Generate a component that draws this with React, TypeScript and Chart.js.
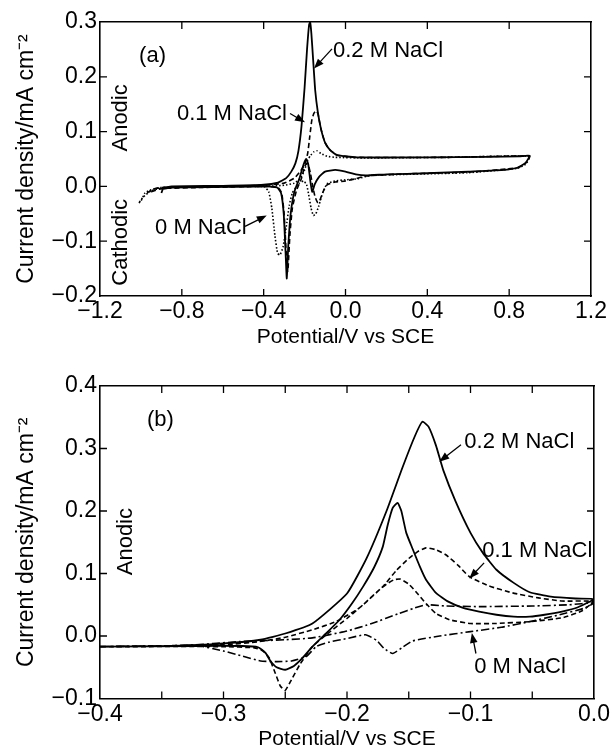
import React, { useEffect, useRef } from 'react';
import { Chart, registerables } from 'chart.js';
Chart.register(...registerables);

// ---------- Panel (a): full cyclic voltammograms ----------
const a02X = [-0.9, -0.89, -0.85, -0.6, -0.4, -0.33, -0.29, -0.265, -0.245, -0.23, -0.215, -0.2, -0.188, -0.178, -0.173, -0.167, -0.158, -0.148, -0.135, -0.12, -0.1, -0.075, -0.04, 0.05, 0.4, 0.7, 0.85, 0.9,
  0.88, 0.84, 0.78, 0.6, 0.4, 0.2, 0.1, 0.05, 0.0, -0.05, -0.1, -0.13, -0.15, -0.163, -0.172, -0.182, -0.192, -0.205, -0.225, -0.25, -0.268, -0.28, -0.287, -0.293, -0.302, -0.315, -0.335, -0.4, -0.6, -0.85, -0.9];
const a02Y = [-0.012, -0.003, 0.0, 0.001, 0.003, 0.007, 0.015, 0.027, 0.042, 0.065, 0.11, 0.18, 0.25, 0.295, 0.3, 0.28, 0.23, 0.175, 0.135, 0.105, 0.08, 0.066, 0.057, 0.053, 0.053, 0.054, 0.055, 0.056,
  0.043, 0.034, 0.03, 0.027, 0.024, 0.022, 0.02, 0.022, 0.027, 0.03, 0.027, 0.017, 0.004, -0.01, 0.01, 0.04, 0.05, 0.04, 0.015, -0.01, -0.05, -0.11, -0.168, -0.12, -0.05, -0.012, -0.002, 0.0, -0.001, -0.002, -0.005];

const a01X = [-0.97, -0.94, -0.9, -0.6, -0.4, -0.3, -0.25, -0.22, -0.2, -0.185, -0.175, -0.165, -0.155, -0.145, -0.135, -0.12, -0.1, -0.075, -0.04, 0.05, 0.5, 0.9,
  0.88, 0.84, 0.6, 0.3, 0.1, 0.05, 0.0, -0.05, -0.09, -0.11, -0.125, -0.135, -0.148, -0.16, -0.172, -0.185, -0.198, -0.215, -0.24, -0.26, -0.272, -0.282, -0.29, -0.3, -0.312, -0.33, -0.4, -0.7, -0.9, -0.95, -0.97];
const a01Y = [-0.012, -0.005, -0.002, 0.0, 0.002, 0.006, 0.015, 0.028, 0.04, 0.06, 0.09, 0.12, 0.133, 0.138, 0.133, 0.105, 0.08, 0.066, 0.057, 0.053, 0.053, 0.055,
  0.042, 0.034, 0.026, 0.023, 0.019, 0.014, 0.01, 0.008, 0.003, -0.01, -0.025, -0.03, -0.02, 0.0, 0.025, 0.042, 0.038, 0.015, -0.008, -0.04, -0.09, -0.155, -0.12, -0.05, -0.012, -0.002, 0.0, -0.002, -0.004, -0.01, -0.012];

const a00X = [-1.01, -1.0, -0.98, -0.95, -0.9, -0.6, -0.4, -0.3, -0.25, -0.22, -0.2, -0.185, -0.17, -0.155, -0.14, -0.12, -0.09, -0.05, 0.1, 0.5, 0.9,
  0.88, 0.84, 0.6, 0.3, 0.12, 0.06, 0.0, -0.05, -0.09, -0.11, -0.13, -0.145, -0.157, -0.168, -0.18, -0.19, -0.205, -0.225, -0.245, -0.26, -0.275, -0.29, -0.305, -0.32, -0.332, -0.345, -0.36, -0.375, -0.395, -0.5, -0.8, -0.9, -0.95, -0.99, -1.01];
const a00Y = [-0.03, -0.027, -0.012, -0.006, -0.002, 0.0, 0.0, 0.002, 0.006, 0.015, 0.03, 0.048, 0.057, 0.063, 0.065, 0.06, 0.055, 0.053, 0.052, 0.053, 0.055,
  0.04, 0.033, 0.025, 0.022, 0.02, 0.014, 0.012, 0.01, 0.005, -0.01, -0.035, -0.05, -0.053, -0.04, -0.015, 0.003, 0.01, 0.006, -0.003, -0.012, -0.035, -0.075, -0.11, -0.125, -0.122, -0.09, -0.04, -0.01, -0.001, 0.0, -0.001, -0.003, -0.008, -0.02, -0.03];

// ---------- Panel (b): anodic region enlarged ----------
const b02X = [-0.4, -0.34, -0.3, -0.27, -0.25, -0.228, -0.2, -0.184, -0.168, -0.155, -0.145, -0.139, -0.134, -0.128, -0.122, -0.112, -0.1, -0.09, -0.079, -0.065, -0.052, -0.035, -0.015, 0.0,
  -0.013, -0.026, -0.04, -0.052, -0.065, -0.079, -0.093, -0.106, -0.118, -0.128, -0.136, -0.141, -0.147, -0.152, -0.156, -0.159, -0.163, -0.167, -0.171, -0.178, -0.187, -0.196, -0.206, -0.217, -0.228, -0.236, -0.243, -0.25, -0.257, -0.262, -0.266, -0.272, -0.285, -0.32, -0.4];
const b02Y = [-0.017, -0.016, -0.012, -0.006, 0.004, 0.02, 0.068, 0.125, 0.2, 0.27, 0.32, 0.343, 0.335, 0.305, 0.265, 0.215, 0.165, 0.133, 0.106, 0.085, 0.07, 0.063, 0.06, 0.059,
  0.046, 0.039, 0.034, 0.031, 0.031, 0.034, 0.039, 0.045, 0.055, 0.069, 0.09, 0.111, 0.14, 0.165, 0.2, 0.213, 0.205, 0.178, 0.143, 0.11, 0.079, 0.052, 0.026, 0.004, -0.017, -0.035, -0.048, -0.054, -0.05, -0.04, -0.027, -0.018, -0.016, -0.016, -0.017];

const b01X = [-0.4, -0.3, -0.271, -0.25, -0.228, -0.209, -0.19, -0.171, -0.16, -0.15, -0.142, -0.136, -0.128, -0.12, -0.11, -0.101, -0.085, -0.066, -0.045, -0.026, 0.0,
  -0.01, -0.026, -0.052, -0.08, -0.1, -0.117, -0.128, -0.136, -0.143, -0.15, -0.157, -0.162, -0.168, -0.175, -0.187, -0.2, -0.213, -0.228, -0.238, -0.245, -0.25, -0.254, -0.258, -0.263, -0.268, -0.275, -0.3, -0.4];
const b01Y = [-0.017, -0.014, -0.009, -0.002, 0.01, 0.023, 0.045, 0.079, 0.105, 0.124, 0.136, 0.141, 0.138, 0.13, 0.113, 0.095, 0.08, 0.069, 0.061, 0.056, 0.055,
  0.04, 0.029, 0.023, 0.02, 0.02, 0.026, 0.036, 0.052, 0.068, 0.083, 0.091, 0.09, 0.083, 0.072, 0.05, 0.028, 0.008, -0.017, -0.045, -0.07, -0.087, -0.08, -0.06, -0.035, -0.024, -0.019, -0.017, -0.017];

const b00X = [-0.4, -0.33, -0.287, -0.25, -0.228, -0.2, -0.18, -0.158, -0.145, -0.136, -0.12, -0.093, -0.05, -0.02, 0.0,
  -0.007, -0.03, -0.052, -0.075, -0.1, -0.125, -0.147, -0.155, -0.163, -0.17, -0.176, -0.185, -0.2, -0.215, -0.225, -0.233, -0.245, -0.257, -0.27, -0.285, -0.3, -0.322, -0.35, -0.4];
const b00Y = [-0.017, -0.015, -0.009, -0.006, -0.003, 0.008, 0.02, 0.036, 0.045, 0.05, 0.048, 0.047, 0.048, 0.05, 0.053,
  0.045, 0.033, 0.023, 0.014, 0.007, 0.0, -0.008, -0.018, -0.028, -0.02, -0.007, 0.002, -0.004, -0.01, -0.017, -0.033, -0.04, -0.041, -0.04, -0.032, -0.024, -0.015, -0.016, -0.017];

const seriesLabels = ['0.2 M NaCl', '0.1 M NaCl', '0 M NaCl'];
const xTitle = 'Potential/V vs SCE';
const yTitle = 'Current density/mA cm\u207B\u00B2';

const FONT = "'Liberation Sans', Arial, Helvetica, sans-serif";

const pts = (xs: number[], ys: number[]) => xs.map((x, i) => ({ x, y: ys[i] }));
const fmt = (v: number) => {
  if (Math.abs(v) < 1e-9) return '0.0';
  const s = Math.abs(v).toFixed(1);
  return v < 0 ? '\u2212' + s : s;
};

const inTicks = {
  id: 'inTicks',
  afterDraw(chart: any, _a: any, opts: any) {
    const { ctx, chartArea: a, scales } = chart;
    const x = scales.x, y = scales.y;
    const L = opts.len || 7;
    ctx.save();
    ctx.strokeStyle = '#000';
    ctx.lineWidth = 1.3;
    ctx.beginPath();
    x.ticks.forEach((t: any) => {
      const px = x.getPixelForValue(t.value);
      if (px <= a.left + 1 || px >= a.right - 1) return;
      ctx.moveTo(px, a.bottom); ctx.lineTo(px, a.bottom - L);
      ctx.moveTo(px, a.top); ctx.lineTo(px, a.top + L);
    });
    y.ticks.forEach((t: any) => {
      const py = y.getPixelForValue(t.value);
      if (py <= a.top + 1 || py >= a.bottom - 1) return;
      ctx.moveTo(a.left, py); ctx.lineTo(a.left + L, py);
      ctx.moveTo(a.right, py); ctx.lineTo(a.right - L, py);
    });
    ctx.stroke();
    ctx.restore();
  },
};

const notes = {
  id: 'notes',
  afterDatasetsDraw(chart: any, _a: any, opts: any) {
    const { ctx, scales } = chart;
    const x = scales.x, y = scales.y;
    ctx.save();
    ctx.fillStyle = '#000';
    ctx.strokeStyle = '#000';
    ctx.font = `22px ${FONT}`;
    (opts.labels || []).forEach((n: any) => {
      const px = x.getPixelForValue(n.x), py = y.getPixelForValue(n.y);
      ctx.save();
      ctx.translate(px, py);
      if (n.rot) ctx.rotate(-Math.PI / 2);
      ctx.textAlign = n.align || 'left';
      ctx.textBaseline = 'middle';
      ctx.fillText(n.text, 0, 0);
      ctx.restore();
    });
    (opts.arrows || []).forEach((ar: any) => {
      const x1 = x.getPixelForValue(ar[0]), y1 = y.getPixelForValue(ar[1]);
      const x2 = x.getPixelForValue(ar[2]), y2 = y.getPixelForValue(ar[3]);
      const ang = Math.atan2(y2 - y1, x2 - x1);
      const hl = 10, hw = 3.8;
      ctx.lineWidth = 1.3;
      ctx.beginPath();
      ctx.moveTo(x1, y1);
      ctx.lineTo(x2 - Math.cos(ang) * hl * 0.8, y2 - Math.sin(ang) * hl * 0.8);
      ctx.stroke();
      ctx.beginPath();
      ctx.moveTo(x2, y2);
      ctx.lineTo(x2 - Math.cos(ang) * hl - Math.sin(ang) * hw, y2 - Math.sin(ang) * hl + Math.cos(ang) * hw);
      ctx.lineTo(x2 - Math.cos(ang) * hl + Math.sin(ang) * hw, y2 - Math.sin(ang) * hl - Math.cos(ang) * hw);
      ctx.closePath();
      ctx.fill();
    });
    ctx.restore();
  },
};

function makeConfig(p: any) {
  const border = { display: true, color: '#000', width: 1.6 };
  const tickFont = { family: FONT, size: 23 };
  const ds = (data: any, dash: number[], w: number, label: string) => ({
    label, data, showLine: true, borderColor: '#000', borderWidth: w, borderDash: dash,
    pointRadius: 0, pointHoverRadius: 0, tension: 0.15, fill: false,
  });
  return {
    type: 'scatter',
    data: {
      datasets: [
        ds(p.s02, [], 1.8, seriesLabels[0]),
        ds(p.s01, [5, 3], 1.6, seriesLabels[1]),
        ds(p.s00, p.dash00, 1.6, seriesLabels[2]),
      ],
    },
    plugins: [inTicks, notes],
    options: {
      responsive: false,
      animation: false,
      events: [],
      layout: { padding: p.pad },
      plugins: {
        legend: { display: false },
        tooltip: { enabled: false },
        inTicks: { len: 7 },
        notes: { labels: p.labels, arrows: p.arrows },
      },
      scales: {
        x: {
          type: 'linear', position: 'bottom', min: p.xmin, max: p.xmax,
          grid: { display: false, drawTicks: false },
          border,
          ticks: {
            stepSize: p.xstep, color: '#000', font: tickFont, padding: 2, maxRotation: 0, autoSkip: false,
            callback: (v: number) => p.xlab(v),
          },
          title: { display: true, text: xTitle, color: '#000', font: { family: FONT, size: 21 }, padding: { top: 0, bottom: p.xtPad } },
          afterFit: (s: any) => { s.height = p.xh; },
        },
        x2: {
          type: 'linear', position: 'top', min: p.xmin, max: p.xmax,
          grid: { display: false, drawTicks: false }, border, ticks: { display: false },
          afterFit: (s: any) => { s.height = 0; },
        },
        y: {
          type: 'linear', position: 'left', min: p.ymin, max: p.ymax,
          grid: { display: false, drawTicks: false },
          border,
          ticks: { stepSize: 0.1, color: '#000', font: tickFont, padding: 3, autoSkip: false, callback: (v: number) => fmt(v) },
          title: { display: true, text: yTitle, color: '#000', font: { family: FONT, size: 23 }, padding: { top: 13, bottom: 0 } },
          afterFit: (s: any) => { s.width = 100; },
        },
        y2: {
          type: 'linear', position: 'right', min: p.ymin, max: p.ymax,
          grid: { display: false, drawTicks: false }, border, ticks: { display: false },
          afterFit: (s: any) => { s.width = 0; },
        },
      },
    },
  };
}

const panelA = {
  s02: pts(a02X, a02Y), s01: pts(a01X, a01Y), s00: pts(a00X, a00Y), dash00: [1.5, 2],
  xmin: -1.2, xmax: 1.2, xstep: 0.4, ymin: -0.2, ymax: 0.3,
  xlab: (v: number) => fmt(v),
  pad: { left: 0, right: 21, top: 22, bottom: 0 }, xh: 56, xtPad: 2,
  labels: [
    { text: '(a)', x: -1.009, y: 0.238, align: 'left' },
    { text: 'Anodic', x: -1.097, y: 0.125, align: 'center', rot: true },
    { text: 'Cathodic', x: -1.097, y: -0.102, align: 'center', rot: true },
    { text: seriesLabels[0], x: -0.061, y: 0.247 },
    { text: seriesLabels[1], x: -0.824, y: 0.133 },
    { text: seriesLabels[2], x: -0.931, y: -0.075 },
  ],
  arrows: [
    [-0.066, 0.251, -0.154, 0.215],
    [-0.271, 0.133, -0.198, 0.117],
    [-0.491, -0.073, -0.385, -0.053],
  ],
};

const panelB = {
  s02: pts(b02X, b02Y), s01: pts(b01X, b01Y), s00: pts(b00X, b00Y), dash00: [8, 3, 2, 3],
  xmin: -0.4, xmax: 0.0, xstep: 0.05, ymin: -0.1, ymax: 0.4,
  xlab: (v: number) => (Math.abs(v * 10 - Math.round(v * 10)) < 1e-6 ? fmt(v) : ''),
  pad: { left: 0, right: 17, top: 34, bottom: 0 }, xh: 53.5, xtPad: 0,
  labels: [
    { text: '(b)', x: -0.362, y: 0.346 },
    { text: 'Anodic', x: -0.3786, y: 0.151, align: 'center', rot: true },
    { text: seriesLabels[0], x: -0.105, y: 0.311 },
    { text: seriesLabels[1], x: -0.0905, y: 0.136 },
    { text: seriesLabels[2], x: -0.097, y: -0.05 },
  ],
  arrows: [
    [-0.1077, 0.306, -0.1253, 0.279],
    [-0.089, 0.117, -0.101, 0.092],
    [-0.0956, -0.028, -0.0989, 0.005],
  ],
};

function Panel({ cfg, top, height }: { cfg: any; top: number; height: number }) {
  const ref = useRef<HTMLCanvasElement | null>(null);
  useEffect(() => {
    if (!ref.current) return;
    const chart = new Chart(ref.current, makeConfig(cfg) as any);
    return () => chart.destroy();
  }, [cfg]);
  return (
    <canvas ref={ref} width={612} height={height}
      style={{ position: 'absolute', left: 0, top, width: 612, height }} />
  );
}

export default function App() {
  return (
    <div style={{ position: 'absolute', left: 0, top: 0, width: 612, height: 752, background: '#fff' }}>
      <Panel cfg={panelA} top={0} height={352} />
      <Panel cfg={panelB} top={352} height={400} />
    </div>
  );
}
